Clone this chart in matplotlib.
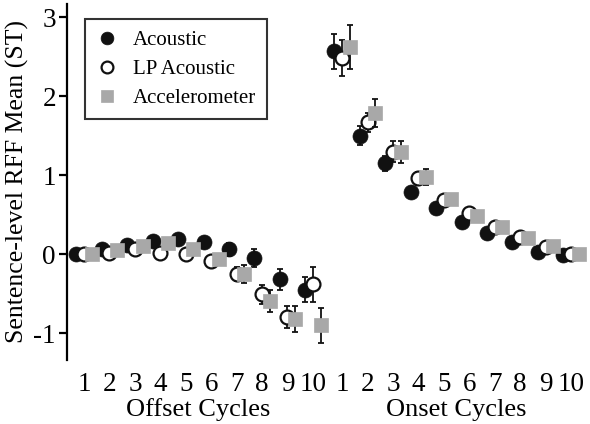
import matplotlib
matplotlib.use("Agg")
import matplotlib.pyplot as plt
import numpy as np

plt.rcParams['font.family'] = ['Liberation Serif', 'DejaVu Serif']

cycles = list(range(1, 11))

# offset cycles
offset_ac = [0.00, 0.06, 0.12, 0.17, 0.19, 0.15, 0.06, -0.05, -0.32, -0.45]
offset_ac_err = [0.03, 0.03, 0.03, 0.04, 0.04, 0.05, 0.08, 0.11, 0.13, 0.16]
offset_lp = [0.00, 0.02, 0.06, 0.01, 0.00, -0.09, -0.25, -0.51, -0.80, -0.38]
offset_lp_err = [0.02, 0.03, 0.03, 0.03, 0.04, 0.06, 0.09, 0.12, 0.14, 0.22]
offset_acc = [0.00, 0.05, 0.10, 0.14, 0.06, -0.06, -0.25, -0.59, -0.82, -0.90]
offset_acc_err = [0.02, 0.03, 0.03, 0.03, 0.04, 0.06, 0.11, 0.14, 0.17, 0.22]

# onset cycles
onset_ac = [2.57, 1.50, 1.15, 0.79, 0.58, 0.41, 0.27, 0.16, 0.03, -0.01]
onset_ac_err = [0.22, 0.12, 0.10, 0.06, 0.05, 0.04, 0.04, 0.03, 0.03, 0.02]
onset_lp = [2.49, 1.67, 1.30, 0.96, 0.69, 0.52, 0.35, 0.22, 0.09, 0.00]
onset_lp_err = [0.23, 0.12, 0.13, 0.08, 0.06, 0.05, 0.04, 0.03, 0.03, 0.02]
onset_acc = [2.63, 1.79, 1.30, 0.98, 0.70, 0.48, 0.34, 0.21, 0.10, 0.00]
onset_acc_err = [0.28, 0.18, 0.14, 0.10, 0.06, 0.05, 0.04, 0.03, 0.03, 0.02]

fig = plt.figure(figsize=(5.9, 4.24), dpi=100)
ax = fig.add_axes([0.1136, 0.151, 0.8864, 0.8396])

off_pos = np.array(cycles, dtype=float)
on_pos = off_pos + 10.15
shift = 0.3

series = [
    ("Acoustic", offset_ac, offset_ac_err, onset_ac, onset_ac_err, -shift,
     dict(marker='o', ms=10.8, mfc='#111111', mec='#111111', mew=0.5)),
    ("LP Acoustic", offset_lp, offset_lp_err, onset_lp, onset_lp_err, 0.0,
     dict(marker='o', ms=10.0, mfc='white', mec='#111111', mew=1.6)),
    ("Accelerometer", offset_acc, offset_acc_err, onset_acc, onset_acc_err, shift,
     dict(marker='s', ms=10.5, mfc='#a8a8a8', mec='#a8a8a8', mew=0.5)),
]

handles = []
for name, offv, offe, onv, one, dx, style in series:
    x = np.concatenate([off_pos + dx, on_pos + dx])
    y = np.concatenate([offv, onv])
    e = np.concatenate([offe, one])
    ax.errorbar(x, y, yerr=e, fmt='none', ecolor='#111111', elinewidth=1.3,
                capsize=2.2, capthick=1.3)
    h, = ax.plot(x, y, linestyle='none', label=name, **style)
    handles.append(h)

ax.set_xlim(0.33, 20.9)
ax.set_ylim(-1.34, 3.17)
ax.set_yticks([-1, 0, 1, 2, 3])
ax.set_yticklabels(['-1', '0', '1', '2', '3'])
ax.set_xticks(list(off_pos) + list(on_pos))
ax.set_xticklabels([str(c) for c in cycles] * 2)

for s in ['top', 'right', 'bottom']:
    ax.spines[s].set_visible(False)
ax.spines['left'].set_linewidth(1.6)
ax.tick_params(axis='x', length=0, pad=9, labelsize=19.5)
ax.tick_params(axis='y', length=6, width=1.6, pad=2, labelsize=19.5)

ax.set_ylabel('Sentence-level RFF Mean (ST)', fontsize=18.5, labelpad=3)

ax.text(5.5, -0.14, 'Offset Cycles', transform=ax.get_xaxis_transform(),
        ha='center', va='center', fontsize=19)
ax.text(on_pos[0] + 4.5, -0.14, 'Onset Cycles', transform=ax.get_xaxis_transform(),
        ha='center', va='center', fontsize=19)

leg = ax.legend(handles=handles, loc='upper left', bbox_to_anchor=(0.034, 0.958),
                borderaxespad=0, fontsize=15, frameon=True, fancybox=False,
                handlelength=1.0, handletextpad=0.75, labelspacing=0.45,
                markerscale=0.85, borderpad=0.55)
leg.get_frame().set_edgecolor('black')
leg.get_frame().set_linewidth(1.5)

fig.savefig('out.png', dpi=100)
